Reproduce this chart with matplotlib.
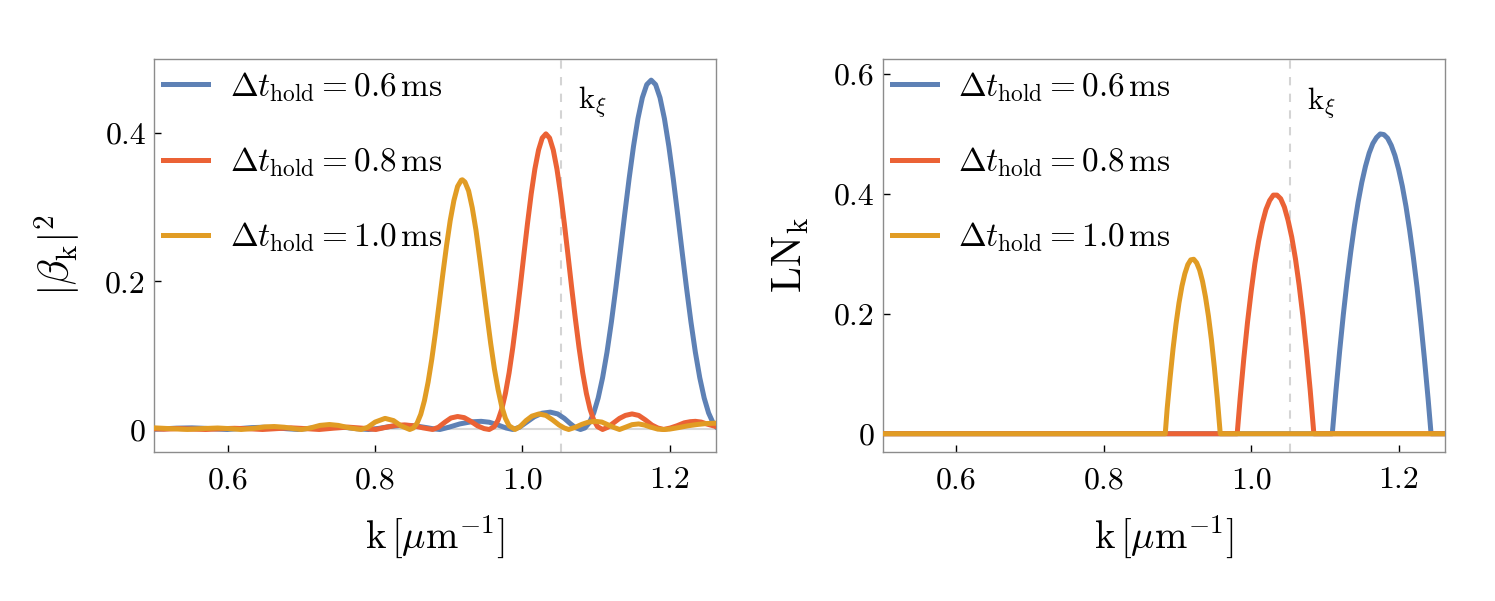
import matplotlib.pyplot as plt

plt.rcParams['mathtext.fontset'] = 'cm'
plt.rcParams['font.family'] = 'serif'
plt.rcParams['font.serif'] = ['cmr10', 'DejaVu Serif']
plt.rcParams['axes.unicode_minus'] = False

# --- data ---------------------------------------------------------------
labels = [r'$\Delta t_{\mathrm{hold}} = 0.6\,\mathrm{ms}$',
          r'$\Delta t_{\mathrm{hold}} = 0.8\,\mathrm{ms}$',
          r'$\Delta t_{\mathrm{hold}} = 1.0\,\mathrm{ms}$']
colors = ['#5E81B5', '#EB6235', '#E19C24']
k_xi = 1.053

# |beta_k|^2, dt = 0.6 ms
beta_k_06 = [0.500, 0.515, 0.530, 0.551, 0.570, 0.585, 0.599, 0.615, 0.632, 0.647,
             0.662, 0.680, 0.695, 0.710, 0.725, 0.740, 0.756, 0.775, 0.791, 0.805,
             0.820, 0.833, 0.843, 0.855, 0.870, 0.880, 0.888, 0.900, 0.915, 0.930,
             0.944, 0.955, 0.967, 0.978, 0.987, 0.996, 1.006, 1.016, 1.027, 1.038,
             1.048, 1.057, 1.065, 1.072, 1.079, 1.085, 1.091, 1.097, 1.103, 1.109,
             1.115, 1.121, 1.127, 1.133, 1.139, 1.145, 1.151, 1.157, 1.163, 1.169,
             1.175, 1.181, 1.187, 1.193, 1.199, 1.205, 1.211, 1.217, 1.223, 1.229,
             1.235, 1.241, 1.247, 1.253, 1.259, 1.263]
beta_v_06 = [0.0002, 0.0010, 0.0018, 0.0022, 0.0015, 0.0006, 0.0000, 0.0012, 0.0025, 0.0030,
             0.0025, 0.0010, 0.0000, 0.0015, 0.0035, 0.0042, 0.0032, 0.0010, 0.0000, 0.0015,
             0.0040, 0.0052, 0.0055, 0.0048, 0.0025, 0.0008, 0.0000, 0.0030, 0.0075, 0.0103,
             0.0110, 0.0098, 0.0060, 0.0020, 0.0000, 0.0030, 0.0100, 0.0170, 0.0220, 0.0234,
             0.0210, 0.0150, 0.0080, 0.0025, 0.0000, 0.0021, 0.0091, 0.0223, 0.0425, 0.0699,
             0.1044, 0.1453, 0.1911, 0.2401, 0.2900, 0.3383, 0.3822, 0.4195, 0.4478, 0.4655,
             0.4715, 0.4655, 0.4478, 0.4195, 0.3822, 0.3383, 0.2900, 0.2401, 0.1911, 0.1453,
             0.1044, 0.0699, 0.0425, 0.0223, 0.0091, 0.0040]

# |beta_k|^2, dt = 0.8 ms
beta_k_08 = [0.500, 0.513, 0.532, 0.551, 0.570, 0.590, 0.609, 0.628, 0.647, 0.667,
             0.686, 0.705, 0.724, 0.744, 0.763, 0.782, 0.801, 0.815, 0.828, 0.840,
             0.852, 0.865, 0.878, 0.886, 0.895, 0.903, 0.912, 0.921, 0.930, 0.939,
             0.948, 0.955, 0.962, 0.967, 0.972, 0.977, 0.982, 0.987, 0.992, 0.997,
             1.002, 1.007, 1.012, 1.017, 1.022, 1.027, 1.032, 1.037, 1.042, 1.047,
             1.052, 1.057, 1.062, 1.067, 1.072, 1.077, 1.082, 1.087, 1.092, 1.097,
             1.102, 1.109, 1.116, 1.124, 1.132, 1.140, 1.149, 1.158, 1.167, 1.176,
             1.184, 1.192, 1.201, 1.210, 1.220, 1.228, 1.235, 1.243, 1.252, 1.263]
beta_v_08 = [0.0010, 0.0004, 0.0012, 0.0006, 0.0000, 0.0010, 0.0016, 0.0010, 0.0000, 0.0012,
             0.0022, 0.0012, 0.0000, 0.0018, 0.0032, 0.0018, 0.0000, 0.0030, 0.0055, 0.0062,
             0.0050, 0.0022, 0.0000, 0.0030, 0.0100, 0.0155, 0.0175, 0.0160, 0.0110, 0.0050,
             0.0012, 0.0000, 0.0039, 0.0126, 0.0273, 0.0486, 0.0765, 0.1105, 0.1495, 0.1914,
             0.2353, 0.2782, 0.3178, 0.3515, 0.3772, 0.3934, 0.3990, 0.3934, 0.3772, 0.3515,
             0.3178, 0.2782, 0.2353, 0.1914, 0.1495, 0.1105, 0.0765, 0.0486, 0.0273, 0.0126,
             0.0039, 0.0000, 0.0030, 0.0090, 0.0150, 0.0190, 0.0210, 0.0190, 0.0130, 0.0060,
             0.0020, 0.0000, 0.0020, 0.0050, 0.0090, 0.0105, 0.0110, 0.0100, 0.0070, 0.0040]

# |beta_k|^2, dt = 1.0 ms
beta_k_10 = [0.500, 0.520, 0.545, 0.565, 0.586, 0.605, 0.618, 0.635, 0.650, 0.663,
             0.677, 0.690, 0.700, 0.712, 0.725, 0.738, 0.750, 0.765, 0.781, 0.790,
             0.800, 0.8135, 0.825, 0.835, 0.847, 0.852, 0.857, 0.862, 0.867, 0.872,
             0.877, 0.882, 0.887, 0.892, 0.897, 0.902, 0.907, 0.912, 0.917, 0.9185,
             0.922, 0.927, 0.932, 0.937, 0.942, 0.947, 0.952, 0.957, 0.962, 0.967,
             0.972, 0.977, 0.982, 0.990, 0.997, 1.005, 1.013, 1.0226, 1.032, 1.041,
             1.050, 1.057, 1.063, 1.072, 1.081, 1.090, 1.099, 1.108, 1.117, 1.125,
             1.132, 1.140, 1.149, 1.158, 1.166, 1.175, 1.184, 1.192, 1.200, 1.212,
             1.225, 1.238, 1.250, 1.263]
beta_v_10 = [0.0022, 0.0012, 0.0001, 0.0012, 0.0020, 0.0010, 0.0000, 0.0015, 0.0035, 0.0040,
             0.0030, 0.0010, 0.0000, 0.0020, 0.0055, 0.0067, 0.0055, 0.0022, 0.0000, 0.0030,
             0.0100, 0.0150, 0.0120, 0.0050, 0.0000, 0.0020, 0.0085, 0.0205, 0.0390, 0.0640,
             0.0950, 0.1310, 0.1700, 0.2100, 0.2480, 0.2820, 0.3090, 0.3280, 0.3365, 0.3370,
             0.3340, 0.3220, 0.2990, 0.2690, 0.2320, 0.1930, 0.1540, 0.1160, 0.0820, 0.0540,
             0.0310, 0.0150, 0.0050, 0.0000, 0.0040, 0.0120, 0.0180, 0.0210, 0.0190, 0.0130,
             0.0060, 0.0020, 0.0000, 0.0030, 0.0070, 0.0100, 0.0110, 0.0100, 0.0060, 0.0025,
             0.0000, 0.0030, 0.0065, 0.0075, 0.0060, 0.0030, 0.0005, 0.0000, 0.0005, 0.0025,
             0.0050, 0.0068, 0.0080, 0.0085]

# LN_k, dt = 0.6 ms
ln_k_06 = [0.500, 1.110, 1.115, 1.120, 1.125, 1.130, 1.135, 1.140, 1.145, 1.150,
           1.155, 1.160, 1.165, 1.170, 1.175, 1.180, 1.185, 1.190, 1.195, 1.200,
           1.205, 1.210, 1.215, 1.220, 1.225, 1.230, 1.235, 1.240, 1.244, 1.263]
ln_v_06 = [0.000, 0.000, 0.072, 0.138, 0.199, 0.254, 0.303, 0.347, 0.386, 0.419,
           0.446, 0.468, 0.484, 0.494, 0.500, 0.499, 0.493, 0.481, 0.464, 0.441,
           0.413, 0.379, 0.339, 0.294, 0.244, 0.187, 0.125, 0.058, 0.000, 0.000]

# LN_k, dt = 0.8 ms
ln_k_08 = [0.500, 0.981, 0.985, 0.990, 0.995, 1.000, 1.005, 1.010, 1.015, 1.020,
           1.025, 1.030, 1.035, 1.040, 1.045, 1.050, 1.055, 1.060, 1.065, 1.070,
           1.075, 1.080, 1.085, 1.263]
ln_v_08 = [0.000, 0.000, 0.059, 0.126, 0.186, 0.238, 0.284, 0.321, 0.351, 0.374,
           0.389, 0.398, 0.398, 0.392, 0.378, 0.356, 0.328, 0.292, 0.248, 0.197,
           0.138, 0.073, 0.000, 0.000]

# LN_k, dt = 1.0 ms
ln_k_10 = [0.500, 0.8834, 0.886, 0.890, 0.894, 0.898, 0.902, 0.906, 0.910, 0.914,
           0.918, 0.922, 0.926, 0.930, 0.934, 0.938, 0.942, 0.946, 0.950, 0.954,
           0.958, 1.263]
ln_v_10 = [0.000, 0.000, 0.042, 0.094, 0.142, 0.183, 0.218, 0.246, 0.267, 0.282,
           0.290, 0.291, 0.285, 0.273, 0.254, 0.228, 0.196, 0.157, 0.111, 0.059,
           0.000, 0.000]

x_ticks = [0.6, 0.8, 1.0, 1.2]
x_tick_labels = ['0.6', '0.8', '1.0', '1.2']
left_y_ticks = [0, 0.2, 0.4]
left_y_tick_labels = ['0', '0.2', '0.4']
right_y_ticks = [0, 0.2, 0.4, 0.6]
right_y_tick_labels = ['0', '0.2', '0.4', '0.6']


def style_axes(ax):
    for side in ['left', 'right', 'top', 'bottom']:
        ax.spines[side].set_color('#8c8c8c')
        ax.spines[side].set_linewidth(1.0)
    ax.tick_params(direction='in', length=5, width=1.0, color='black',
                   labelsize=23, top=False, right=False)
    ax.tick_params(axis='x', pad=11)
    ax.tick_params(axis='y', pad=6)
    ax.set_xlim(0.5, 1.263)
    ax.set_xticks(x_ticks, x_tick_labels)
    ax.set_xlabel(r'$\mathrm{k}\,[\mu\mathrm{m}^{-1}]$', fontsize=28, labelpad=14)


def add_legend(ax):
    ax.legend(loc='upper left', bbox_to_anchor=(0.016, 0.972), frameon=False,
              fontsize=24, handlelength=1.35, handletextpad=0.65,
              labelspacing=1.25, borderpad=0, borderaxespad=0)


fig = plt.figure(figsize=(14.95, 6.01), dpi=100)
ax1 = fig.add_axes([0.1032, 0.2484, 0.3757, 0.6534])
ax2 = fig.add_axes([0.5904, 0.2484, 0.3762, 0.6534])

# left panel: |beta_k|^2
ax1.axhline(0, color='#d9d9d9', lw=1.5, zorder=1)
ax1.axvline(k_xi, color='#d4d4d4', lw=1.5, dashes=(4, 4), zorder=1)
ax1.plot(beta_k_06, beta_v_06, color=colors[0], lw=3.6, label=labels[0], zorder=2)
ax1.plot(beta_k_08, beta_v_08, color=colors[1], lw=3.6, label=labels[1], zorder=3)
ax1.plot(beta_k_10, beta_v_10, color=colors[2], lw=3.6, label=labels[2], zorder=4)
ax1.text(1.076, 0.442, r'$\mathrm{k}_{\xi}$', fontsize=22, ha='left', va='center')
style_axes(ax1)
ax1.set_ylim(-0.03, 0.5)
ax1.set_yticks(left_y_ticks, left_y_tick_labels)
ax1.set_ylabel(r'$|\beta_{\mathrm{k}}|^2$', fontsize=30, labelpad=16)
add_legend(ax1)

# right panel: LN_k
ax2.axvline(k_xi, color='#d4d4d4', lw=1.5, dashes=(4, 4), zorder=1)
ax2.plot(ln_k_06, ln_v_06, color=colors[0], lw=3.6, label=labels[0], zorder=2)
ax2.plot(ln_k_08, ln_v_08, color=colors[1], lw=3.6, label=labels[1], zorder=3)
ax2.plot(ln_k_10, ln_v_10, color=colors[2], lw=3.6, label=labels[2], zorder=4)
ax2.text(1.076, 0.553, r'$\mathrm{k}_{\xi}$', fontsize=22, ha='left', va='center')
style_axes(ax2)
ax2.set_ylim(-0.03, 0.625)
ax2.set_yticks(right_y_ticks, right_y_tick_labels)
ax2.set_ylabel(r'$\mathrm{LN}_{\mathrm{k}}$', fontsize=30, labelpad=16)
add_legend(ax2)

fig.savefig('out.png', dpi=100)
